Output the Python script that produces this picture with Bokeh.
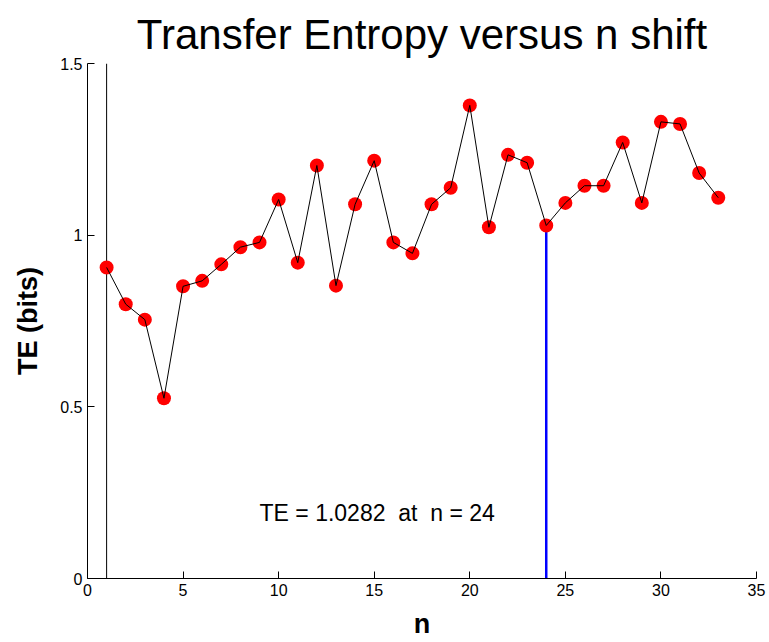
from bokeh.plotting import figure
from bokeh.models import FixedTicker, Label, Range1d
from bokeh.embed import file_html
from bokeh.resources import INLINE

# Transfer entropy (bits) for each shift n
n_shift = list(range(1, 34))
te_bits = [0.906, 0.799, 0.754, 0.525, 0.851, 0.867, 0.915, 0.965, 0.979, 1.104,
           0.920, 1.203, 0.853, 1.090, 1.217, 0.979, 0.947, 1.090, 1.138, 1.378,
           1.023, 1.234, 1.211, 1.0282, 1.094, 1.144, 1.144, 1.270, 1.094, 1.330,
           1.324, 1.181, 1.109]

# highlighted shift and its value
best_n = 24
best_te = 1.0282
ref_n = 1

x_ticks = [0, 5, 10, 15, 20, 25, 30, 35]
y_ticks = [0, 0.5, 1, 1.5]
y_tick_labels = ["0", "0.5", "1", "1.5"]

FONT = "Liberation Sans"
NBSP = "\u00a0"

p = figure(width=769, height=642, output_backend="svg", toolbar_location=None,
           x_range=Range1d(0, 35), y_range=Range1d(0, 1.5),
           title="Transfer Entropy versus n shift",
           min_border_left=87, min_border_right=13,
           min_border_top=63, min_border_bottom=64)

p.title.text_font = FONT
p.title.text_font_size = "42px"
p.title.text_font_style = "normal"
p.title.align = "center"
p.title.text_color = "black"
p.title.standoff = 12

p.outline_line_color = None
p.xgrid.visible = False
p.ygrid.visible = False
p.background_fill_color = "white"
p.border_fill_color = "white"

for ax in (p.xaxis, p.yaxis):
    ax.major_tick_in = 7
    ax.major_tick_out = 0
    ax.minor_tick_line_color = None
    ax.axis_line_color = "black"
    ax.major_tick_line_color = "black"
    ax.major_label_text_font = FONT
    ax.major_label_text_font_size = "16px"
    ax.major_label_text_color = "black"
    ax.axis_label_text_font = FONT
    ax.axis_label_text_font_style = "bold"
    ax.axis_label_text_font_size = "27px"
    ax.axis_label_text_color = "black"

p.xaxis.ticker = FixedTicker(ticks=x_ticks)
p.yaxis.ticker = FixedTicker(ticks=y_ticks)
p.yaxis.major_label_overrides = {t: s for t, s in zip(y_ticks, y_tick_labels)}
p.xaxis.axis_label = "n"
p.yaxis.axis_label = "TE (bits)"
p.xaxis.axis_label_standoff = 10
p.yaxis.axis_label_standoff = 14

# vertical reference line at the first shift
p.segment(x0=[ref_n], y0=[0], x1=[ref_n], y1=[1.5], line_color="black", line_width=1)

# stem marking the selected shift
p.segment(x0=[best_n], y0=[0], x1=[best_n], y1=[best_te], line_color="#0000ff", line_width=2.5)

p.scatter(n_shift, te_bits, size=14, marker="circle", fill_color="#ff0000", line_color=None)
p.line(n_shift, te_bits, line_color="black", line_width=1)

gap = NBSP * 2
p.add_layout(Label(x=9, y=0.19, text=f"TE = {best_te}{gap}at{gap}n = {best_n}",
                   text_font=FONT, text_font_size="23px", text_color="black",
                   text_baseline="middle", text_align="left"))

open("out.html", "w").write(file_html(p, INLINE))
